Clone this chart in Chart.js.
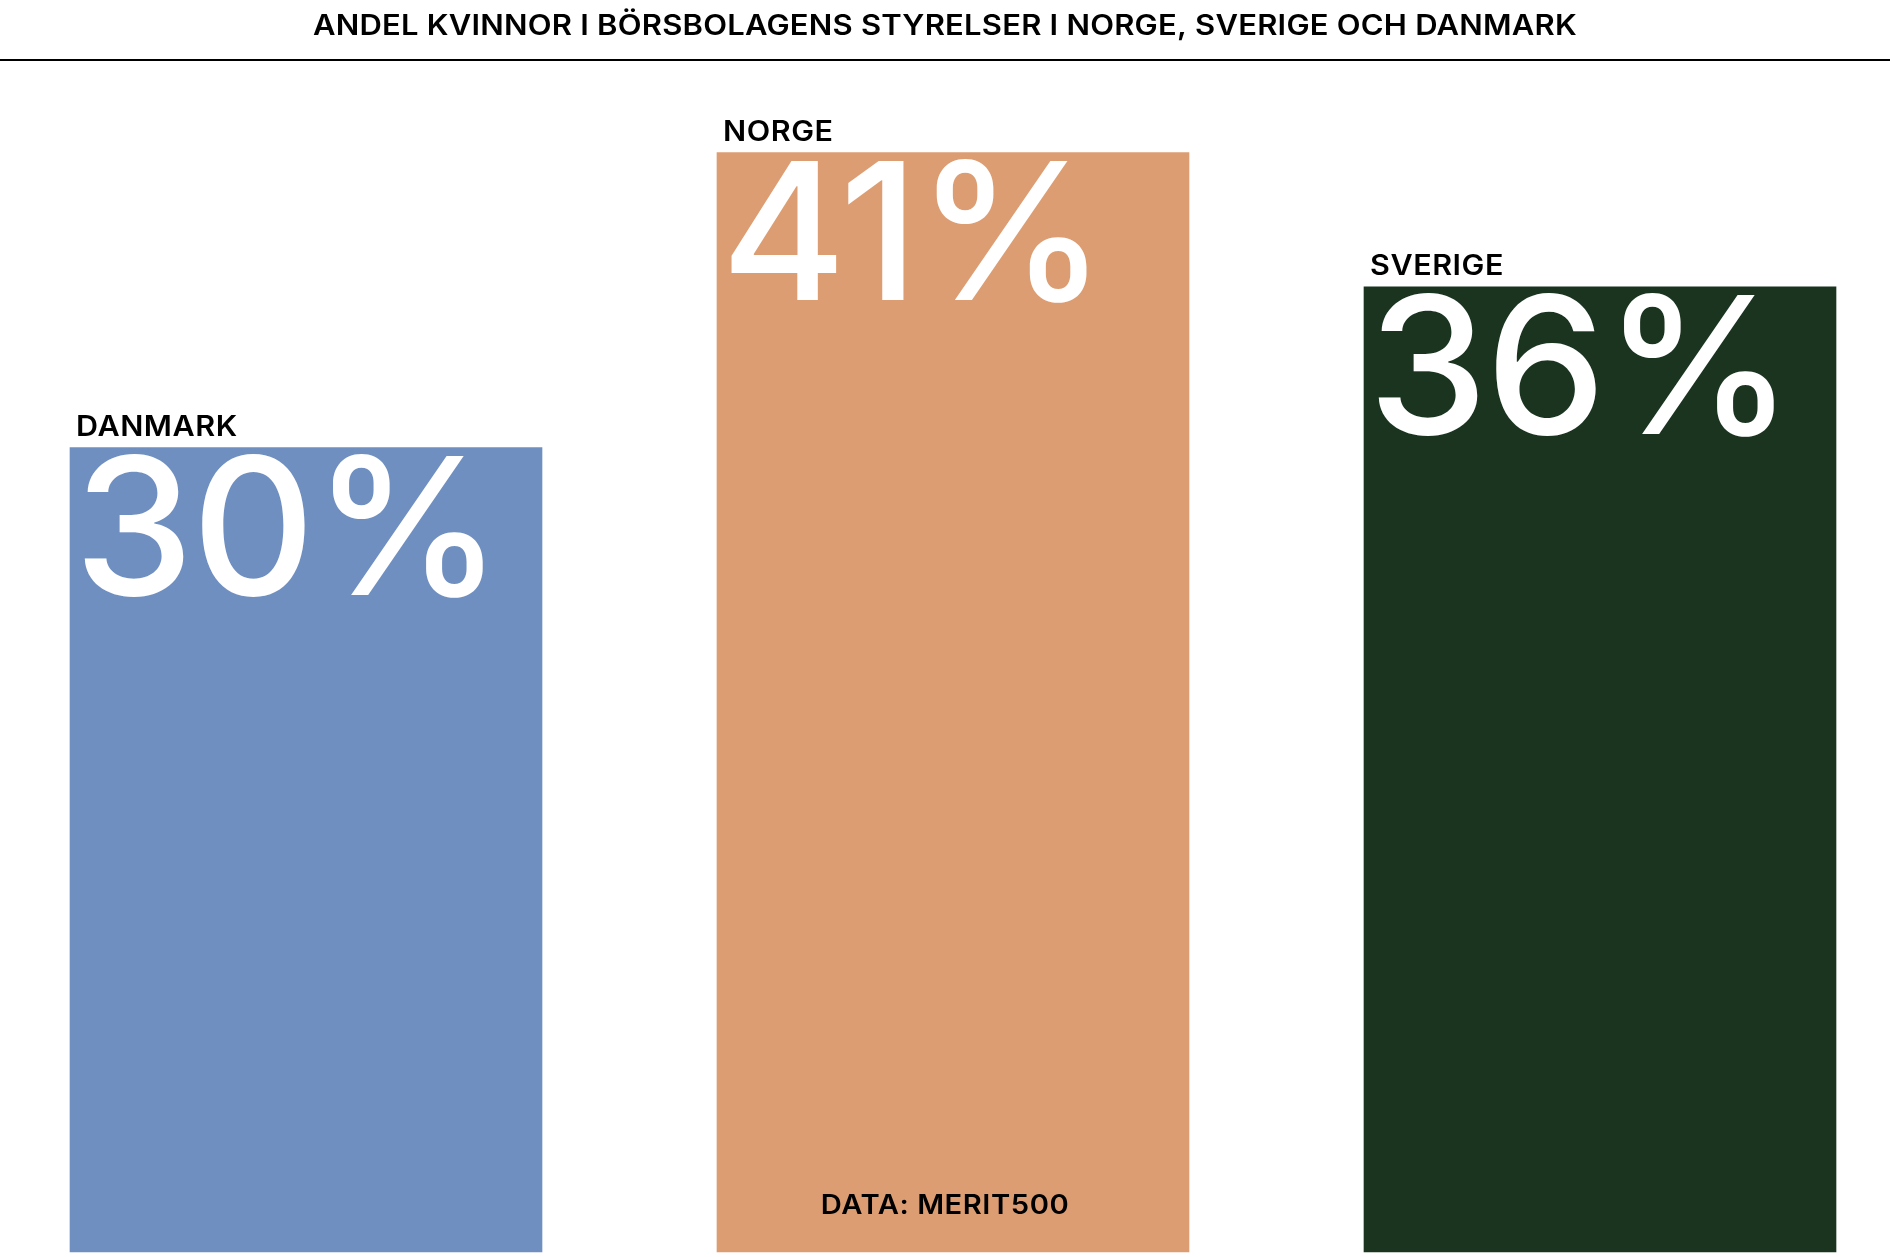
<!DOCTYPE html>
<html>
<head>
<meta charset="utf-8">
<script src="https://cdn.jsdelivr.net/npm/chart.js@4"></script>
<style>
  html, body { margin: 0; padding: 0; background: #ffffff; }
  #wrap { width: 1890px; height: 1257px; position: relative; }
  canvas { display: block; }
</style>
</head>
<body>
<div id="wrap"><canvas id="c" width="1890" height="1257"></canvas></div>
<script>
const titleText = 'ANDEL KVINNOR I BÖRSBOLAGENS STYRELSER I NORGE, SVERIGE OCH DANMARK';
const sourceText = 'DATA: MERIT500';
const categories = ['DANMARK', 'NORGE', 'SVERIGE'];
const shares = [30, 41, 36];
const barColors = ['#6F8FC0', '#DD9D72', '#1A341F'];

function drawScaled(ctx, text, x, y, align, sx) {
  ctx.save();
  ctx.translate(x, y);
  ctx.scale(sx, 1);
  ctx.textAlign = align;
  ctx.fillText(text, 0, 0);
  ctx.restore();
}

const overlay = {
  id: 'overlay',
  afterDatasetsDraw(chart) {
    const ctx = chart.ctx;
    const W = chart.width;
    ctx.save();
    ctx.textBaseline = 'alphabetic';
    // title
    ctx.fillStyle = '#000';
    ctx.font = '600 28px Inter, "Liberation Sans", sans-serif';
    ctx.letterSpacing = '0.2px';
    const tw = ctx.measureText(titleText).width;
    drawScaled(ctx, titleText, W / 2, 34.5, 'center', 1264 / tw);
    // rule
    ctx.fillRect(0, 59, W, 2);

    const meta = chart.getDatasetMeta(0);
    meta.data.forEach((bar, i) => {
      const left = bar.x - bar.width / 2;
      const top = bar.y;
      // country label
      ctx.fillStyle = '#000';
      ctx.font = '600 28px Inter, "Liberation Sans", sans-serif';
      ctx.letterSpacing = '0.5px';
      drawScaled(ctx, categories[i], left + 6, top - 12, 'left', 1.09);
      // big value
      ctx.fillStyle = '#ffffff';
      ctx.font = '500 191px Inter, "Liberation Sans", sans-serif';
      ctx.letterSpacing = '-2px';
      drawScaled(ctx, shares[i] + '%', left + 4, top + 147, 'left', 1);
    });

    // source
    ctx.fillStyle = '#000';
    ctx.font = '600 27px Inter, "Liberation Sans", sans-serif';
    ctx.letterSpacing = '0.5px';
    drawScaled(ctx, sourceText, W / 2, 1214, 'center', 1.08);
    ctx.restore();
  }
};

new Chart(document.getElementById('c'), {
  type: 'bar',
  data: {
    labels: categories,
    datasets: [{
      data: shares,
      backgroundColor: barColors,
      borderWidth: 0,
      barThickness: 472,
      clip: false
    }]
  },
  options: {
    responsive: false,
    devicePixelRatio: 1,
    animation: false,
    layout: { padding: { top: 152.7, bottom: 5, left: 306, right: 290 } },
    scales: {
      x: { type: 'category', offset: false, display: false, grid: { display: false } },
      y: { min: 0, max: 41, display: false, grid: { display: false } }
    },
    plugins: {
      legend: { display: false },
      tooltip: { enabled: false },
      title: { display: false }
    }
  },
  plugins: [overlay]
});
</script>
</body>
</html>
